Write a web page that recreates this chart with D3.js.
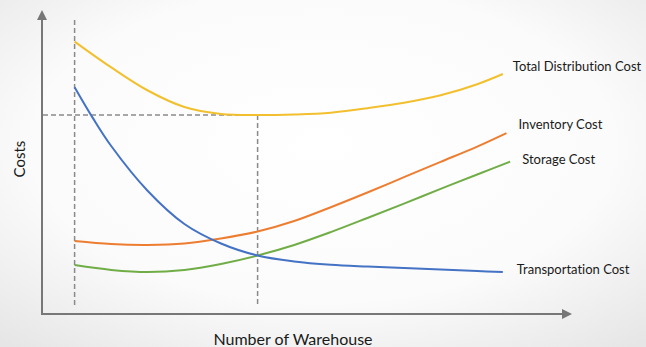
<!DOCTYPE html>
<html>
<head>
<meta charset="utf-8">
<script src="https://cdn.jsdelivr.net/npm/d3@7"></script>
<style>
  html, body { margin: 0; padding: 0; background: #fff; }
  svg { display: block; font-family: Lato, "Open Sans", sans-serif; font-variant-ligatures: none; }
</style>
</head>
<body>
<div id="chart"></div>
<script>
// data (x = number of warehouses, y = cost, arbitrary units)
var totalX = [1, 2, 3, 4, 5, 6, 7, 8, 9, 10, 11, 12, 12.7]
var totalY = [90.8, 82.2, 74.5, 69, 66.7, 66.3, 66.5, 67.1, 68.6, 70.4, 72.9, 76.6, 80]

var inventoryX = [1, 2, 3, 4, 5, 6, 7, 8, 9, 10, 11, 12, 12.8]
var inventoryY = [24.3, 23.3, 23, 23.5, 25.2, 27.5, 31, 35.6, 40.5, 45.6, 50.7, 55.8, 60.3]

var storageX = [1, 2, 3, 4, 5, 6, 7, 8, 9, 10, 11, 12, 12.9]
var storageY = [16.3, 14.7, 14, 14.7, 16.7, 19.5, 23, 27.3, 32, 36.8, 41.7, 46.5, 50.8]

var transportX = [1, 1.5, 2, 3, 4, 5, 6, 7, 8, 9, 10, 11, 12, 12.7]
var transportY = [75.6, 65.3, 56, 41, 30, 23.5, 19.5, 17.5, 16.4, 15.8, 15.3, 14.8, 14.3, 14]

var seriesNames = ["Total Distribution Cost", "Inventory Cost", "Storage Cost", "Transportation Cost"]
var minWarehouses = 1     // left dashed line
var optimumWarehouses = 6 // right dashed line
var optimumCost = 66.3    // horizontal dashed line

var W = 646, H = 347

var svg = d3.select("#chart").append("svg")
    .attr("width", W)
    .attr("height", H)

// soft grey vignette in the background
var defs = svg.append("defs")
var grad = defs.append("radialGradient")
    .attr("id", "bg").attr("cx", "50%").attr("cy", "42%").attr("r", "75%")
grad.append("stop").attr("offset", "0%").attr("stop-color", "#ffffff")
grad.append("stop").attr("offset", "60%").attr("stop-color", "#fbfbfb")
grad.append("stop").attr("offset", "100%").attr("stop-color", "#e6e6e6")
svg.append("rect").attr("width", W).attr("height", H).attr("fill", "url(#bg)")

defs.append("marker")
    .attr("id", "arrow")
    .attr("viewBox", "0 0 10 10")
    .attr("refX", 8).attr("refY", 5)
    .attr("markerWidth", 5).attr("markerHeight", 5)
    .attr("orient", "auto")
  .append("path")
    .attr("d", "M0,0 L10,5 L0,10 z")
    .attr("fill", "#777")

// scales
var x = d3.scaleLinear().domain([0, 15]).range([38, 587])
var y = d3.scaleLinear().domain([0, 100]).range([314, 14])

var axisLeft = 42, axisBottom = 314

// axes with arrows, no ticks
svg.append("line")
    .attr("x1", axisLeft).attr("y1", axisBottom + 1)
    .attr("x2", axisLeft).attr("y2", 12)
    .attr("stroke", "#777").attr("stroke-width", 2)
    .attr("marker-end", "url(#arrow)")
svg.append("line")
    .attr("x1", axisLeft - 1).attr("y1", axisBottom)
    .attr("x2", 570).attr("y2", axisBottom)
    .attr("stroke", "#777").attr("stroke-width", 2)
    .attr("marker-end", "url(#arrow)")

// dashed guide lines
var dashStyle = function(sel) {
    sel.attr("stroke", "#8a8a8a").attr("stroke-width", 1.5).attr("stroke-dasharray", "5,3").attr("fill", "none")
}
svg.append("line")
    .attr("x1", x(minWarehouses)).attr("x2", x(minWarehouses))
    .attr("y1", 20).attr("y2", 305)
    .call(dashStyle)
svg.append("line")
    .attr("x1", x(optimumWarehouses)).attr("x2", x(optimumWarehouses))
    .attr("y1", y(optimumCost)).attr("y2", 305)
    .call(dashStyle)
svg.append("line")
    .attr("x1", axisLeft + 1).attr("x2", x(optimumWarehouses))
    .attr("y1", y(optimumCost)).attr("y2", y(optimumCost))
    .call(dashStyle)

// curves
var series = [
    {name: seriesNames[0], xs: totalX, ys: totalY, color: "#f2c02e", dy: -6, dx: 10},
    {name: seriesNames[1], xs: inventoryX, ys: inventoryY, color: "#ed7d31", dy: -7, dx: 12},
    {name: seriesNames[2], xs: storageX, ys: storageY, color: "#70ad47", dy: -1, dx: 12},
    {name: seriesNames[3], xs: transportX, ys: transportY, color: "#4472c4", dy: -1, dx: 14}
]

var line = d3.line()
    .x(function(d) { return x(d[0]) })
    .y(function(d) { return y(d[1]) })
    .curve(d3.curveCatmullRom.alpha(0.5))

series.forEach(function(s) {
    var pts = s.xs.map(function(v, i) { return [v, s.ys[i]] })
    svg.append("path")
        .datum(pts)
        .attr("fill", "none")
        .attr("stroke", s.color)
        .attr("stroke-width", 2)
        .attr("d", line)
    var last = pts[pts.length - 1]
    svg.append("text")
        .attr("x", x(last[0]) + s.dx)
        .attr("y", y(last[1]) + s.dy)
        .attr("dominant-baseline", "middle")
        .style("font-size", "13px")
        .style("fill", "#1a1a1a")
        .text(s.name)
})

// axis titles
svg.append("text")
    .attr("transform", "translate(25,159) rotate(-90)")
    .attr("text-anchor", "middle")
    .style("font-size", "15px")
    .style("fill", "#1a1a1a")
    .text("Costs")
svg.append("text")
    .attr("x", 293).attr("y", 345)
    .attr("text-anchor", "middle")
    .style("font-size", "16px")
    .style("fill", "#1a1a1a")
    .text("Number of Warehouse")
</script>
</body>
</html>
